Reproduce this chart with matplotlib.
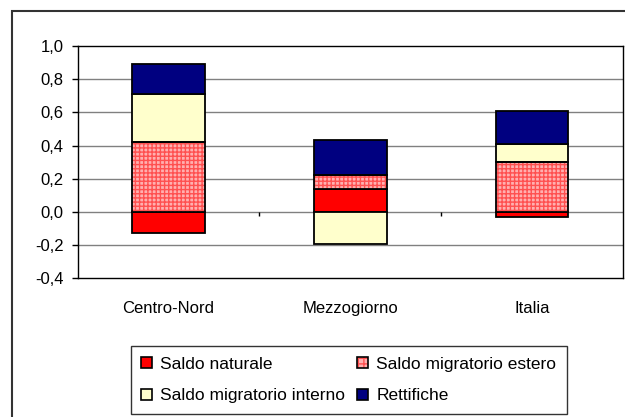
import matplotlib
matplotlib.use('Agg')
import matplotlib.pyplot as plt
from matplotlib.patches import Patch, Rectangle
from matplotlib.ticker import FuncFormatter
import numpy as np

# data
categories = ['Centro-Nord', 'Mezzogiorno', 'Italia']
series_names = ['Saldo naturale', 'Saldo migratorio estero',
                'Saldo migratorio interno', 'Rettifiche']
saldo_naturale = [-0.13, 0.14, -0.03]
saldo_estero = [0.42, 0.085, 0.30]
saldo_interno = [0.29, -0.195, 0.11]
rettifiche = [0.18, 0.21, 0.20]
yticks = [-0.4, -0.2, 0.0, 0.2, 0.4, 0.6, 0.8, 1.0]

plt.rcParams['font.family'] = ['Liberation Sans', 'DejaVu Sans']
plt.rcParams['hatch.linewidth'] = 1.0
FS = 12

fig = plt.figure(figsize=(6.25, 4.17), dpi=100)
ax = fig.add_axes([77.7 / 625, 1 - 278.3 / 417, (623 - 77.7) / 625, (278.3 - 46) / 417])

x = np.arange(len(categories))
w = 0.4
pos_bottom = np.zeros(len(categories))
neg_bottom = np.zeros(len(categories))

styles = [
    dict(facecolor='#ff0000'),
    dict(facecolor='#ffb0b0', hatch='++++', hatch_edge='#ff5050'),
    dict(facecolor='#ffffcc'),
    dict(facecolor='#000080'),
]
handles = []
for vals, st in zip([saldo_naturale, saldo_estero, saldo_interno, rettifiche], styles):
    vals = np.array(vals)
    bottom = np.where(vals >= 0, pos_bottom, neg_bottom)
    if 'hatch' in st:
        ax.bar(x, vals, w, bottom=bottom, facecolor=st['facecolor'],
               edgecolor=st['hatch_edge'], hatch=st['hatch'], linewidth=0, zorder=3)
        ax.bar(x, vals, w, bottom=bottom, fill=False, edgecolor='black',
               linewidth=1.3, zorder=4)
        h = (Patch(facecolor=st['facecolor'], edgecolor=st['hatch_edge'], hatch='+++', linewidth=0),
             Patch(fill=False, edgecolor='black', linewidth=1.2))
    else:
        ax.bar(x, vals, w, bottom=bottom, color=st['facecolor'], edgecolor='black',
               linewidth=1.3, zorder=3)
        h = Patch(facecolor=st['facecolor'], edgecolor='black', linewidth=1.2)
    handles.append(h)
    pos_bottom = pos_bottom + np.where(vals >= 0, vals, 0)
    neg_bottom = neg_bottom + np.where(vals < 0, vals, 0)

ax.set_xlim(-0.5, len(categories) - 0.5)
ax.set_ylim(-0.4, 1.0)
ax.set_yticks(yticks)
ax.yaxis.set_major_formatter(FuncFormatter(lambda v, p: f'{v:.1f}'.replace('.', ',')))
for v in yticks[1:-1]:
    ax.axhline(v, color='#808080', linewidth=1, zorder=1)
# category boundary ticks on the zero line
ax.vlines(x[:-1] + 0.5, -0.025, 0, color='black', linewidth=1, zorder=2)

ax.set_xticks(x)
ax.set_xticklabels(categories, fontsize=FS)
ax.tick_params(axis='x', length=0, pad=16)
ax.tick_params(axis='y', labelsize=FS, length=4.3, width=1, direction='out', pad=6)
for s in ax.spines.values():
    s.set_color('black')
    s.set_linewidth(1)

# legend fills row by row in the reference; matplotlib fills columns first
order = [0, 2, 1, 3]
leg = fig.legend([handles[i] for i in order], [series_names[i] for i in order],
                 loc='upper left', ncol=2,
                 bbox_to_anchor=(130.7 / 625, 1 - 346.3 / 417),
                 fontsize=12.5, frameon=True, fancybox=False, borderpad=0.6,
                 handlelength=0.6, handleheight=0.6, handletextpad=0.5,
                 columnspacing=0.7, labelspacing=0.95, borderaxespad=0)
leg.get_frame().set_edgecolor('black')
leg.get_frame().set_linewidth(1)

# outer chart border (cut off at right and bottom)
fig.patches.append(Rectangle((11.7 / 625, -0.5), 2, 1 - 11 / 417 + 0.5,
                             transform=fig.transFigure, fill=False,
                             edgecolor='#333333', linewidth=1.5))

fig.savefig('out.png', dpi=100)
